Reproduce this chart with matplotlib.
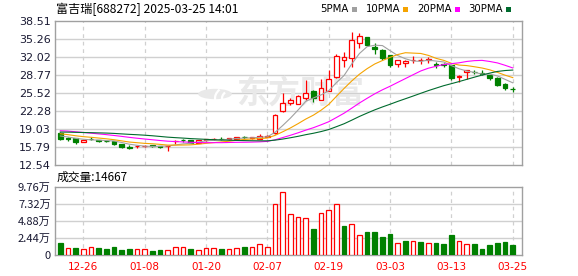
import matplotlib
matplotlib.use('Agg')
import matplotlib.pyplot as plt
from matplotlib.patches import Rectangle, Circle, Arc
import pandas as pd

plt.rcParams['font.family'] = ['Noto Sans CJK SC', 'DejaVu Sans']

# --- colours ---
COLOR_UP    = '#ff0000'
COLOR_DOWN  = '#008000'
COLOR_GRID  = '#d0d0d0'
COLOR_FRAME = '#a0a0a0'
COLOR_TEXT  = '#1a1a33'
COLOR_MARK  = '#e9e9e9'   # watermark

# --- data ---
dates = ['12-23', '12-24', '12-25', '12-26', '12-27', '12-30', '12-31',
         '01-02', '01-03', '01-06', '01-07', '01-08', '01-09', '01-10', '01-13',
         '01-14', '01-15', '01-16', '01-17', '01-20', '01-21', '01-22', '01-23',
         '01-24', '01-27', '02-05', '02-06', '02-07', '02-10', '02-11', '02-12',
         '02-13', '02-14', '02-17', '02-18', '02-19', '02-20', '02-21', '02-24',
         '02-25', '02-26', '02-27', '02-28', '03-03', '03-04', '03-05', '03-06',
         '03-07', '03-10', '03-11', '03-12', '03-13', '03-14', '03-17', '03-18',
         '03-19', '03-20', '03-21', '03-24', '03-25']

open_ = [18.36, 17.32, 17.33, 16.72, 17.30, 17.00, 16.92, 16.80, 16.25, 15.75,
         15.90, 16.00, 16.08, 15.95, 15.90, 16.80, 17.00, 16.97, 16.56, 16.97,
         17.15, 17.30, 17.20, 17.30, 17.55, 17.35, 17.28, 17.60, 18.30, 22.20,
         23.80, 23.60, 24.70, 25.90, 24.30, 25.90, 28.40, 31.50, 31.80, 34.50,
         35.60, 33.90, 33.20, 32.30, 30.80, 31.00, 31.40, 31.40, 31.40, 30.70,
         30.70, 30.50, 28.40, 29.30, 29.40, 29.10, 28.70, 28.30, 27.20, 26.30]
high = [18.45, 17.59, 17.38, 17.05, 17.50, 17.10, 17.00, 16.85, 16.30, 16.10,
        16.00, 16.10, 16.15, 16.00, 16.00, 17.00, 17.30, 17.00, 17.05, 17.30,
        17.35, 17.60, 17.40, 17.65, 17.80, 17.60, 18.10, 17.90, 21.70, 25.55,
        24.60, 25.10, 27.95, 26.00, 28.00, 29.60, 32.50, 32.90, 36.50, 36.30,
        35.70, 34.60, 33.40, 32.40, 31.50, 31.50, 32.20, 31.90, 32.00, 31.10,
        31.00, 30.60, 28.70, 29.70, 29.70, 29.60, 28.80, 28.40, 27.40, 26.60]
low = [17.10, 16.87, 16.33, 16.65, 17.00, 16.75, 16.75, 16.20, 15.65, 15.45,
       15.55, 15.70, 15.85, 15.60, 15.00, 16.30, 16.70, 16.45, 16.50, 16.80,
       17.05, 17.00, 17.10, 17.25, 17.30, 17.30, 17.25, 17.50, 18.20, 22.10,
       23.40, 23.50, 24.20, 23.90, 24.20, 25.80, 28.20, 30.20, 30.20, 33.70,
       34.00, 32.50, 31.40, 30.20, 30.20, 30.30, 30.90, 30.70, 31.00, 30.00,
       30.20, 27.80, 27.50, 28.10, 29.00, 28.70, 27.80, 26.80, 26.00, 25.70]
close = [17.16, 17.28, 16.69, 17.00, 17.25, 16.95, 16.85, 16.25, 15.71, 15.68,
         15.98, 16.05, 16.02, 15.85, 15.98, 16.90, 16.97, 16.56, 16.97, 17.15,
         17.30, 17.25, 17.35, 17.60, 17.50, 17.55, 17.70, 17.80, 21.60, 23.65,
         24.20, 25.00, 25.60, 24.70, 26.40, 28.00, 32.20, 32.10, 35.10, 35.80,
         34.20, 33.50, 31.80, 30.50, 31.40, 31.30, 31.50, 31.45, 31.60, 30.55,
         30.50, 28.20, 28.60, 29.60, 29.30, 29.00, 28.20, 26.90, 26.50, 26.20]
# volume in 万 (10k) shares
volume = [1.69, 0.99, 0.99, 0.85, 1.08, 0.99, 0.85, 1.13, 0.70, 0.85,
          0.85, 0.85, 0.56, 0.70, 0.70, 1.08, 1.22, 0.85, 0.70, 0.94,
          0.94, 0.85, 0.85, 0.94, 1.13, 1.22, 1.64, 1.22, 7.32, 9.11,
          5.87, 5.45, 5.31, 3.80, 6.01, 6.43, 7.32, 4.23, 4.51, 2.91,
          3.24, 3.24, 2.54, 2.96, 1.78, 1.97, 1.97, 1.83, 1.69, 1.69,
          1.55, 2.82, 1.97, 1.64, 1.55, 0.85, 1.41, 1.69, 1.83, 1.4667]
# closes before the visible window (needed for the moving averages)
pre_close = [17.6, 17.8, 17.9, 18.2, 18.0, 17.9, 18.1, 18.3, 18.2, 18.0,
             18.6, 19.1, 19.5, 19.8, 19.6, 19.4, 19.3, 19.0, 19.2, 19.1,
             18.9, 18.7, 18.6, 18.4, 18.3, 18.2, 17.9, 17.8, 17.8]

ma_periods = [5, 10, 20, 30]
ma_labels = ['5PMA', '10PMA', '20PMA', '30PMA']
ma_colors = ['#a0a0a0', '#f5a300', '#ff00ff', '#006b2e']

price_ticks = [12.54, 15.79, 19.03, 22.28, 25.52, 28.77, 32.02, 35.26, 38.51]
vol_ticks = [0, 2.44, 4.88, 7.32, 9.76]
vol_tick_labels = ['0', '2.44万', '4.88万', '7.32万', '9.76万']
label_every = 8
label_start = 3

title = '富吉瑞[688272] 2025-03-25 14:01'
vol_title = '成交量:14667'

# --- figure ---
W, H = 578, 276
fig = plt.figure(figsize=(W / 100, H / 100), dpi=100)
fig.patch.set_facecolor('white')

ax = fig.add_axes([55 / W, 1 - 165 / H, 467 / W, 144 / H])
ax2 = fig.add_axes([55 / W, 1 - 255 / H, 467 / W, 68 / H])

x = list(range(len(close)))
xticks = x[label_start::label_every]

for a in (ax, ax2):
    a.set_xlim(-0.69, 60.2)
    for s in a.spines.values():
        s.set_edgecolor(COLOR_FRAME)
        s.set_linewidth(1.0)
    a.tick_params(length=0, labelsize=8, colors=COLOR_TEXT, pad=3)
    for xt in xticks:
        a.axvline(xt, color=COLOR_GRID, linestyle=(0, (3, 3)), linewidth=0.9, zorder=0)

# price panel
ax.set_ylim(price_ticks[0], price_ticks[-1])
ax.set_yticks(price_ticks)
ax.set_yticklabels([f'{v:.2f}' for v in price_ticks], family='DejaVu Sans')
ax.set_xticks([])
for yt in price_ticks[1:-1]:
    ax.axhline(yt, color=COLOR_GRID, linewidth=1.0, zorder=0)

# watermark: round swirl icon + brand text
ax.text(0.525, 0.49, '东方财富', transform=ax.transAxes, ha='center', va='center',
        fontsize=23, fontweight='bold', color=COLOR_MARK, zorder=0.5)
icon_xy = ((215 - 55) / 467, (165 - 94) / 144)
ax.add_patch(Circle(icon_xy, 0.036, transform=ax.transAxes, facecolor=COLOR_MARK,
                    edgecolor='none', zorder=0.5))
for r in [0.05, 0.075]:
    ax.add_patch(Arc((icon_xy[0] + 0.045, icon_xy[1] - 0.03), r * 1.2, r * 2.6,
                     theta1=120, theta2=200, transform=ax.transAxes,
                     color='white', linewidth=1.6, zorder=0.6))

body_w = 0.6
for i in x:
    o, h, l, c = open_[i], high[i], low[i], close[i]
    up = c > o
    col = COLOR_UP if up else COLOR_DOWN
    ax.vlines(i, l, h, color=col, linewidth=0.9, zorder=2)
    ax.add_patch(Rectangle((i - body_w / 2, min(o, c)), body_w, abs(c - o),
                           facecolor='white' if up else col, edgecolor=col,
                           linewidth=0.9, zorder=3))

closes_all = pd.Series(pre_close + close)
for p, col in zip(ma_periods, ma_colors):
    ma = closes_all.rolling(p).mean().iloc[len(pre_close):].values
    ax.plot(x, ma, color=col, linewidth=0.8, zorder=4)

# volume panel
prev_close = [pre_close[-1]] + close[:-1]
for i in x:
    up = close[i] > prev_close[i]
    col = COLOR_UP if up else COLOR_DOWN
    ax2.bar(i, volume[i], width=body_w, facecolor='white' if up else col,
            edgecolor=col, linewidth=0.9, zorder=3)
ax2.set_ylim(0, vol_ticks[-1])
ax2.set_yticks(vol_ticks)
ax2.set_yticklabels(vol_tick_labels)
for yt in vol_ticks[1:-1]:
    ax2.axhline(yt, color=COLOR_GRID, linewidth=1.0, zorder=0)
ax2.set_xticks(xticks)
ax2.set_xticklabels([dates[i] for i in xticks], family='DejaVu Sans', fontsize=7.5)
ax2.tick_params(axis='x', colors=COLOR_UP, pad=5)

# texts
fig.text(56 / W, 1 - 9 / H, title, ha='left', va='center', fontsize=8.7, color='black')
fig.text(57 / W, 1 - 177 / H, vol_title, ha='left', va='center', fontsize=8.5, color='black')

# MA legend: label first, then a small coloured square; right end near x=510 px
renderer = fig.canvas.get_renderer()
texts = [fig.text(0, 1 - 9 / H, lab, ha='left', va='center', fontsize=7.3,
                  family='DejaVu Sans', color='black') for lab in ma_labels]
widths = [t.get_window_extent(renderer).width for t in texts]
gap_sq, sq, gap_next = 3, 5, 9
total = sum(widths) + len(widths) * (gap_sq + sq) + (len(widths) - 1) * gap_next
lx = 511 - total
for t, tw, col in zip(texts, widths, ma_colors):
    t.set_x(lx / W)
    fig.add_artist(Rectangle(((lx + tw + gap_sq) / W, 1 - 11.5 / H), sq / W, sq / H,
                             transform=fig.transFigure, facecolor=col, edgecolor='none'))
    lx += tw + gap_sq + sq + gap_next

fig.savefig('out.png', dpi=100, facecolor='white')
